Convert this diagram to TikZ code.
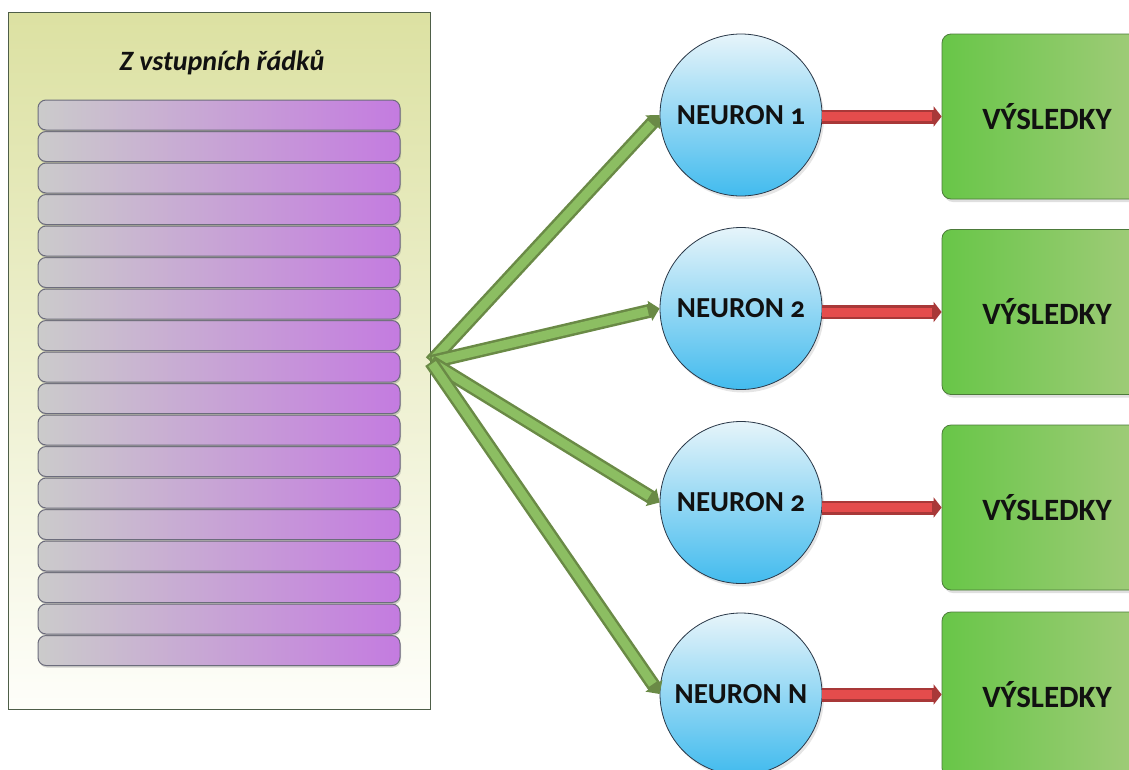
\documentclass[tikz,border=0pt]{standalone}
\usepackage{fontspec}
\setmainfont{Carlito}[Numbers=OldStyle]
\usetikzlibrary{arrows.meta,shadows}

\definecolor{panelTop}{HTML}{DCE1A2}
\definecolor{panelBottom}{HTML}{FEFEFA}
\definecolor{panelEdge}{HTML}{4E5E48}
\definecolor{rowLeft}{HTML}{CBCBCB}
\definecolor{rowRight}{HTML}{C47BE0}
\definecolor{rowEdge}{HTML}{6C6C7C}
\definecolor{cellTop}{HTML}{E6F4FA}
\definecolor{cellBottom}{HTML}{42BBEE}
\definecolor{cellEdge}{HTML}{2A3848}
\definecolor{outLeft}{HTML}{68C648}
\definecolor{outRight}{HTML}{A4CC7C}
\definecolor{outEdge}{HTML}{4C7A3A}
\definecolor{feedDark}{HTML}{6A8A46}
\definecolor{feedLight}{HTML}{8CBE62}
\definecolor{sigDark}{HTML}{A83838}
\definecolor{sigLight}{HTML}{E44C4C}
\definecolor{ink}{HTML}{111111}

\begin{document}
\begin{tikzpicture}[x=1pt,y=-1pt,
  panel/.style={draw=panelEdge, line width=1.2pt, top color=panelTop, bottom color=panelBottom,
    minimum width=422pt, minimum height=697pt, anchor=north west, inner sep=0pt},
  rowbar/.style={draw=rowEdge, line width=1pt, rounded corners=8pt, left color=rowLeft, right color=rowRight,
    minimum width=362pt, minimum height=30pt, inner sep=0pt,
    drop shadow={opacity=0.35, shadow xshift=1pt, shadow yshift=-2pt}},
  neuron/.style={circle, draw=cellEdge, line width=0.8pt, top color=cellTop, bottom color=cellBottom,
    minimum size=162pt, inner sep=0pt, font=\fontsize{29}{31}\selectfont\bfseries, text=ink,
    drop shadow={opacity=0.2, shadow xshift=2pt, shadow yshift=-3pt}},
  result/.style={draw=outEdge, line width=0.8pt, rounded corners=9pt, left color=outLeft, right color=outRight,
    minimum width=210pt, minimum height=165pt, inner sep=0pt, font=\fontsize{31}{33}\selectfont\bfseries, text=ink,
    drop shadow={opacity=0.25, shadow xshift=2pt, shadow yshift=-3pt}},
  feedouter/.style={draw=feedDark, line width=14pt, -{Triangle[length=10pt,width=20pt]}},
  feedinner/.style={draw=feedLight, line width=9pt, shorten >=12pt, shorten <=2pt},
  sigouter/.style={draw=sigDark, line width=14pt, -{Triangle[length=8pt,width=20pt]}},
  siginner/.style={draw=sigLight, line width=9pt, shorten >=10pt},
]
\useasboundingbox (0,0) rectangle (1129,769);
\clip (0,0) rectangle (1129,769);
\fill[white] (0,0) rectangle (1129,769);

% input table with its rows
\node[panel] (panel) at (8,12) {};
\node[font=\fontsize{28}{30}\selectfont\bfseries\itshape, text=ink] (title) at (222,63) {Z vstupních řádků};
\foreach \i in {17,16,...,0} {
  \node[rowbar] (row\i) at (219,{115+31.5*\i}) {};
}

% fan-out point on the table edge
\coordinate (hub) at (431,362);

% neurons
\node[neuron] (n1) at (741,115) {NEURON 1};
\node[neuron] (n2) at (741,308.5) {NEURON 2};
\node[neuron] (n3) at (741,502.5) {NEURON 2};
\node[neuron] (n4) at (741,694) {NEURON N};

% output boxes
\node[result] (r1) at (1047,116.5) {VÝSLEDKY};
\node[result] (r2) at (1047,312) {VÝSLEDKY};
\node[result] (r3) at (1047,507.5) {VÝSLEDKY};
\node[result] (r4) at (1047,694.5) {VÝSLEDKY};

% connections from the table to each neuron
\foreach \n in {n1,n2,n3,n4} {
  \draw[feedouter] (hub) -- (\n.west);
  \draw[feedinner] (hub) -- (\n.west);
}

% connections from each neuron to its output
\foreach \k in {1,2,3,4} {
  \draw[sigouter] (n\k.east |- r\k.west) -- (r\k.west);
  \draw[siginner] (n\k.east |- r\k.west) -- (r\k.west);
}
\end{tikzpicture}
\end{document}
